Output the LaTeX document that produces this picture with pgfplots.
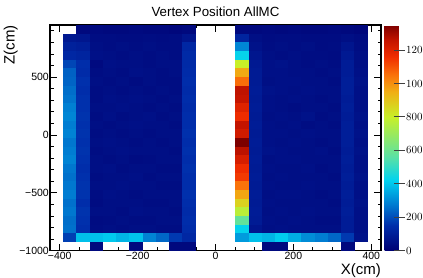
\documentclass[border=0pt]{standalone}
\usepackage{pgfplots}
\pgfplotsset{compat=1.18}
\usepackage{pgfplotstable}
\usepackage{fontspec}
\setmainfont{Liberation Sans}
\pgfdeclareplotmark{cell}{%
  \pgfpathrectangle{\pgfpoint{-6.72bp}{-4.42bp}}{\pgfpoint{13.44bp}{8.84bp}}%
  \pgfusepathqfill}
\pgfplotstableread{
z      L1  L2  L3  L4  L5  L6  L7  L8  L9  L10  R1   R2  R3  R4  R5  R6  R7  R8  R9  R10
-962.5 0   0   30  0   0   30  0   0   30  30   0    0   30  30  0   0   0   0   30  0
-887.5 180 390 390 405 370 395 290 245 170 130  330  390 370 410 360 305 280 245 170 60
-812.5 260 150 45  50  45  50  50  45  45  145  425  70  50  55  50  50  50  50  95  55
-737.5 255 155 40  45  50  45  45  50  50  150  580  90  55  50  55  50  45  45  95  55
-662.5 270 160 50  50  45  55  50  50  45  145  770  95  50  55  50  55  50  50  100 55
-587.5 260 150 40  50  50  50  45  45  50  150  870  90  55  50  50  50  50  45  95  60
-512.5 280 160 45  55  50  45  50  50  50  155  965  95  50  55  55  50  45  50  100 55
-437.5 270 160 50  50  55  50  50  45  45  150  1050 90  55  50  50  55  50  50  95  55
-362.5 260 155 45  50  50  55  45  50  50  150  1140 95  50  55  50  50  50  45  100 60
-287.5 270 150 50  55  45  50  50  45  45  155  1165 90  55  50  50  55  45  50  95  55
-212.5 290 155 50  45  50  40  45  50  50  150  1220 95  50  55  55  50  50  50  100 55
-137.5 280 160 45  50  55  50  50  50  45  155  1270 90  60  55  50  50  55  45  95  60
-62.5  270 155 50  55  50  45  50  45  50  150  1350 95  55  50  55  50  45  50  100 55
12.5   290 160 45  50  45  50  45  50  50  155  1230 90  55  55  50  55  50  50  100 60
87.5   280 155 50  45  50  55  50  50  45  150  1260 95  55  50  55  45  50  45  100 55
162.5  295 160 45  55  45  50  55  45  50  150  1165 90  50  55  50  60  45  50  95  60
237.5  285 155 50  50  55  50  45  50  45  145  1200 95  55  50  45  50  50  45  100 55
312.5  265 155 45  55  50  55  50  45  50  150  1255 90  55  50  55  50  45  50  95  55
387.5  255 150 45  50  45  50  45  50  45  145  1265 95  60  55  50  55  50  50  100 55
462.5  240 155 50  45  50  40  50  45  45  150  1060 90  50  55  55  50  50  45  100 60
537.5  235 145 45  50  45  55  50  45  50  145  960  90  55  55  50  50  45  50  95  55
612.5  190 150 35  55  50  50  45  50  50  140  800  85  55  60  50  45  50  45  95  50
687.5  130 120 55  50  45  50  45  50  45  140  430  75  50  45  50  45  45  40  85  50
762.5  110 100 50  45  50  45  50  45  45  130  295  60  45  50  45  50  40  45  70  45
837.5  80  75  45  45  40  40  45  40  45  70   120  50  40  45  45  40  40  40  50  40
912.5  0   30  35  30  30  35  30  30  25  30   30   30  35  30  35  30  30  35  30  25
}\vtx
\pgfplotsset{cellplot/.style={scatter, only marks, mark=cell, point meta=explicit},
  notbottom/.style={restrict y to domain=-925:1000},
  midonly/.style={restrict y to domain=-925:875}}
\begin{document}
\begin{tikzpicture}
\useasboundingbox (-50bp,-27.3bp) rectangle (373bp,250.7bp);
\begin{axis}[
  at={(0,0)}, anchor=south west,
  scale only axis, width=331bp, height=225.7bp,
  xmin=-425, xmax=425, ymin=-1000, ymax=950,
  axis on top,
  colormap={rootpal}{rgb255(0pt)=(0,0,115); rgb255(15pt)=(0,45,170); rgb255(28pt)=(0,125,210); rgb255(42pt)=(0,210,240); rgb255(56pt)=(90,225,165); rgb255(80pt)=(200,240,40); rgb255(95pt)=(240,175,20); rgb255(105pt)=(250,115,10); rgb255(116pt)=(240,45,0); rgb255(126pt)=(195,20,0); rgb255(135pt)=(125,0,0)},
  point meta min=0, point meta max=1350,
  xtick={-400,-200,0,200,400}, xticklabels={−400,−200,0,200,400},
  minor xtick={-400,-350,...,400},
  ytick={-1000,-500,0,500}, yticklabels={−1000,−500,0,500},
  minor ytick={-1000,-900,...,900},
  tick align=inside, tick pos=both,
  xticklabel pos=lower, yticklabel pos=left,
  major tick length=7bp, minor tick length=3.5bp,
  every tick/.style={black, line width=0.8bp},
  axis line style={line width=1.5bp},
  tick label style={font=\fontsize{10.5bp}{11bp}\selectfont},
  xticklabel style={inner ysep=1bp},
  yticklabel style={inner xsep=1bp},
  title={Vertex Position AllMC},
  title style={font=\fontsize{13.3bp}{14bp}\selectfont, at={(axis description cs:0.5,1)}, anchor=base, yshift=2.3bp},
  xlabel={X(cm)},
  xlabel style={font=\fontsize{15bp}{16bp}\selectfont, at={(axis description cs:1,0)}, anchor=base east, yshift=-23.5bp, inner sep=0pt},
  ylabel={Z(cm)},
  ylabel style={font=\fontsize{15bp}{16bp}\selectfont, at={(axis description cs:-0.0967,1)}, anchor=south east, inner sep=0pt},
  colorbar,
  colorbar style={
    at={(parent axis.north east)}, anchor=north west, xshift=-5bp,
    scale only axis, width=20bp, height=225.7bp,
    ymin=0, ymax=1350,
    ytick={0,200,...,1200}, minor ytick={},
    /pgf/number format/1000 sep={},
    ytick pos=right, yticklabel pos=right, ytick align=inside,
    major tick length=11bp,
    every tick/.style={black!75, line width=1bp},
    axis line style={draw=none},
    yticklabel style={font=\fontsize{10.8bp}{11bp}\selectfont, inner xsep=1.5bp},
  },
]
\addplot[cellplot, midonly] table[x expr=-374, y=z, meta=L1] {\vtx};
\addplot[cellplot, notbottom] table[x expr=-340, y=z, meta=L2] {\vtx};
\addplot[cellplot] table[x expr=-306, y=z, meta=L3] {\vtx};
\addplot[cellplot, notbottom] table[x expr=-272, y=z, meta=L4] {\vtx};
\addplot[cellplot, notbottom] table[x expr=-238, y=z, meta=L5] {\vtx};
\addplot[cellplot] table[x expr=-204, y=z, meta=L6] {\vtx};
\addplot[cellplot, notbottom] table[x expr=-170, y=z, meta=L7] {\vtx};
\addplot[cellplot, notbottom] table[x expr=-136, y=z, meta=L8] {\vtx};
\addplot[cellplot] table[x expr=-102, y=z, meta=L9] {\vtx};
\addplot[cellplot] table[x expr=-68, y=z, meta=L10] {\vtx};
\addplot[cellplot, notbottom] table[x expr=68, y=z, meta=R1] {\vtx};
\addplot[cellplot, notbottom] table[x expr=102, y=z, meta=R2] {\vtx};
\addplot[cellplot] table[x expr=136, y=z, meta=R3] {\vtx};
\addplot[cellplot] table[x expr=170, y=z, meta=R4] {\vtx};
\addplot[cellplot, notbottom] table[x expr=204, y=z, meta=R5] {\vtx};
\addplot[cellplot, notbottom] table[x expr=238, y=z, meta=R6] {\vtx};
\addplot[cellplot, notbottom] table[x expr=272, y=z, meta=R7] {\vtx};
\addplot[cellplot, notbottom] table[x expr=306, y=z, meta=R8] {\vtx};
\addplot[cellplot] table[x expr=340, y=z, meta=R9] {\vtx};
\addplot[cellplot, notbottom] table[x expr=374, y=z, meta=R10] {\vtx};
\end{axis}
\end{tikzpicture}
\end{document}
